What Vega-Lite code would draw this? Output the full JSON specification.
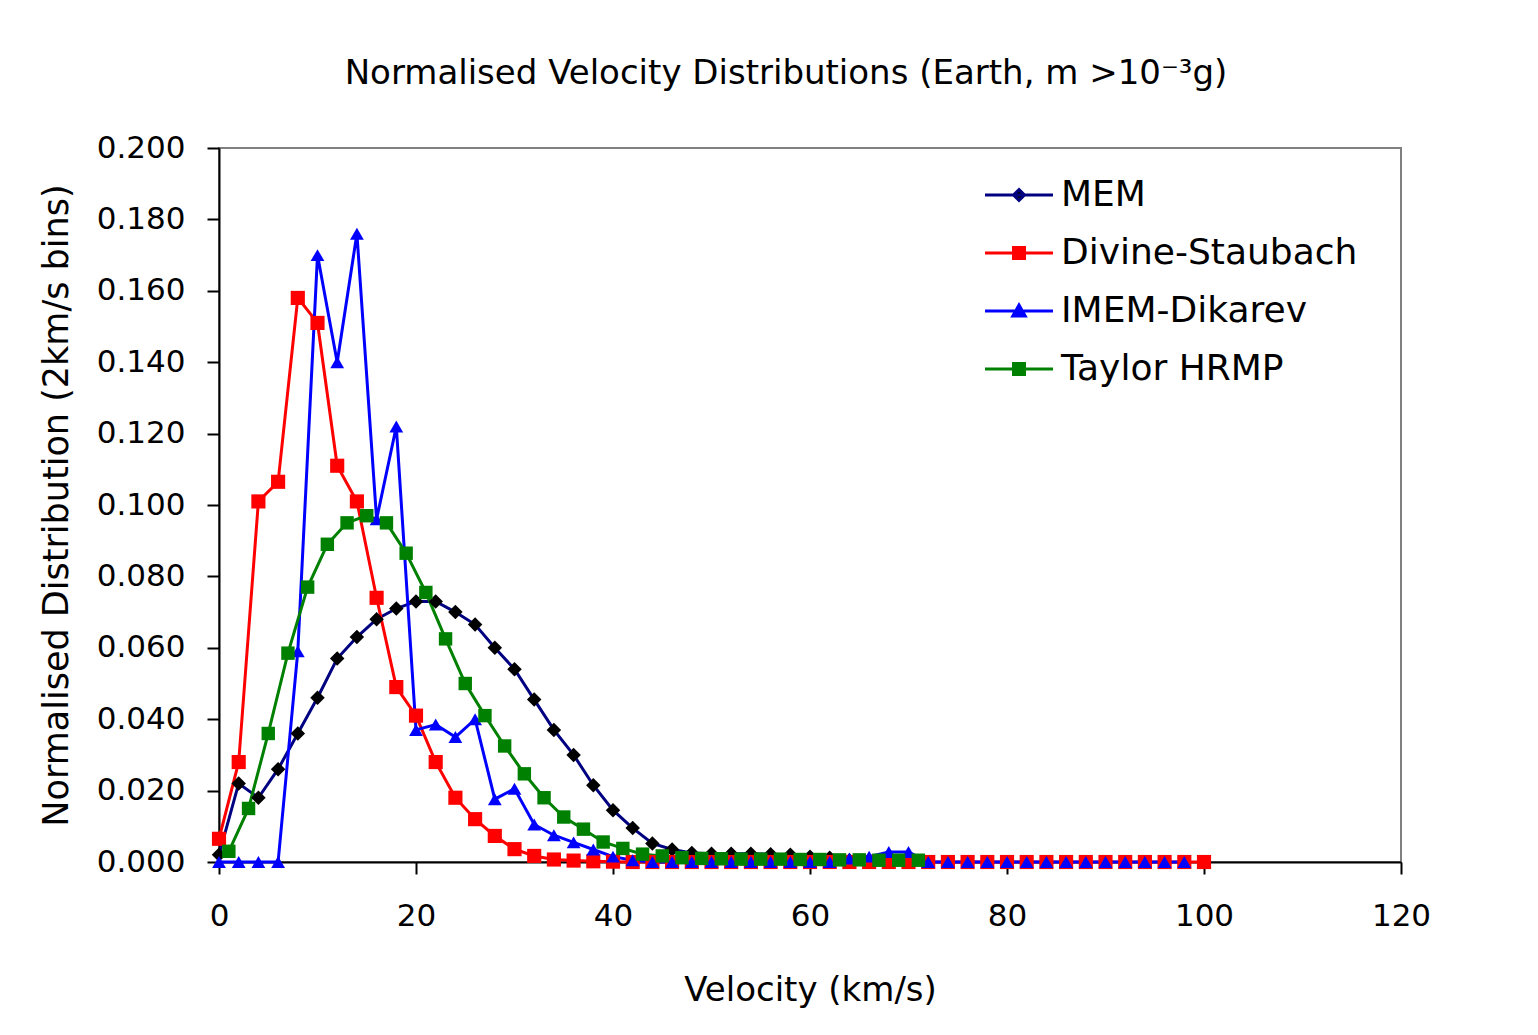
{
  "$schema": "https://vega.github.io/schema/vega-lite/v6.json",
  "autosize": {"type": "none"},
  "width": 1182,
  "height": 714,
  "padding": {"left": 219, "top": 148, "right": 137, "bottom": 173},
  "background": "#ffffff",
  "title": {
    "text": "Normalised Velocity Distributions (Earth, m >10⁻³g)",
    "font": "DejaVu Sans",
    "fontSize": 34,
    "fontWeight": "normal",
    "color": "#000000",
    "anchor": "middle",
    "dx": -24,
    "offset": 41
  },
  "config": {
    "view": {"stroke": "#808080", "strokeWidth": 2},
    "axis": {
      "domainColor": "#000000",
      "domainWidth": 2,
      "tickColor": "#000000",
      "tickWidth": 2,
      "tickSize": 12,
      "grid": false,
      "labelFlush": false,
      "labelFont": "DejaVu Sans",
      "labelFontSize": 31,
      "labelColor": "#000000",
      "titleFont": "DejaVu Sans",
      "titleFontSize": 34,
      "titleFontWeight": "normal",
      "titleColor": "#000000"
    }
  },
  "data": {
    "values": [
      {"s": "MEM", "v": 0, "d": 0.002}, {"s": "MEM", "v": 2, "d": 0.022}, {"s": "MEM", "v": 4, "d": 0.018}, {"s": "MEM", "v": 6, "d": 0.026},
      {"s": "MEM", "v": 8, "d": 0.036}, {"s": "MEM", "v": 10, "d": 0.046}, {"s": "MEM", "v": 12, "d": 0.057}, {"s": "MEM", "v": 14, "d": 0.063},
      {"s": "MEM", "v": 16, "d": 0.068}, {"s": "MEM", "v": 18, "d": 0.071}, {"s": "MEM", "v": 20, "d": 0.073}, {"s": "MEM", "v": 22, "d": 0.073},
      {"s": "MEM", "v": 24, "d": 0.070}, {"s": "MEM", "v": 26, "d": 0.0665}, {"s": "MEM", "v": 28, "d": 0.060}, {"s": "MEM", "v": 30, "d": 0.054},
      {"s": "MEM", "v": 32, "d": 0.0455}, {"s": "MEM", "v": 34, "d": 0.037}, {"s": "MEM", "v": 36, "d": 0.030}, {"s": "MEM", "v": 38, "d": 0.0215},
      {"s": "MEM", "v": 40, "d": 0.0145}, {"s": "MEM", "v": 42, "d": 0.0095}, {"s": "MEM", "v": 44, "d": 0.0052}, {"s": "MEM", "v": 46, "d": 0.0035},
      {"s": "MEM", "v": 48, "d": 0.0025}, {"s": "MEM", "v": 50, "d": 0.0023}, {"s": "MEM", "v": 52, "d": 0.0023}, {"s": "MEM", "v": 54, "d": 0.0023},
      {"s": "MEM", "v": 56, "d": 0.0022}, {"s": "MEM", "v": 58, "d": 0.002}, {"s": "MEM", "v": 60, "d": 0.0015}, {"s": "MEM", "v": 62, "d": 0.0012},
      {"s": "MEM", "v": 64, "d": 0.0005},

      {"s": "Divine-Staubach", "v": 0, "d": 0.0065}, {"s": "Divine-Staubach", "v": 2, "d": 0.028}, {"s": "Divine-Staubach", "v": 4, "d": 0.101},
      {"s": "Divine-Staubach", "v": 6, "d": 0.1065}, {"s": "Divine-Staubach", "v": 8, "d": 0.158}, {"s": "Divine-Staubach", "v": 10, "d": 0.151},
      {"s": "Divine-Staubach", "v": 12, "d": 0.111}, {"s": "Divine-Staubach", "v": 14, "d": 0.101}, {"s": "Divine-Staubach", "v": 16, "d": 0.074},
      {"s": "Divine-Staubach", "v": 18, "d": 0.049}, {"s": "Divine-Staubach", "v": 20, "d": 0.041}, {"s": "Divine-Staubach", "v": 22, "d": 0.028},
      {"s": "Divine-Staubach", "v": 24, "d": 0.018}, {"s": "Divine-Staubach", "v": 26, "d": 0.012}, {"s": "Divine-Staubach", "v": 28, "d": 0.0073},
      {"s": "Divine-Staubach", "v": 30, "d": 0.0036}, {"s": "Divine-Staubach", "v": 32, "d": 0.0017}, {"s": "Divine-Staubach", "v": 34, "d": 0.0007},
      {"s": "Divine-Staubach", "v": 36, "d": 0.0004}, {"s": "Divine-Staubach", "v": 38, "d": 0.0002}, {"s": "Divine-Staubach", "v": 40, "d": 0.0001},
      {"s": "Divine-Staubach", "v": 42, "d": 0}, {"s": "Divine-Staubach", "v": 44, "d": 0}, {"s": "Divine-Staubach", "v": 46, "d": 0},
      {"s": "Divine-Staubach", "v": 48, "d": 0}, {"s": "Divine-Staubach", "v": 50, "d": 0}, {"s": "Divine-Staubach", "v": 52, "d": 0},
      {"s": "Divine-Staubach", "v": 54, "d": 0}, {"s": "Divine-Staubach", "v": 56, "d": 0}, {"s": "Divine-Staubach", "v": 58, "d": 0},
      {"s": "Divine-Staubach", "v": 60, "d": 0}, {"s": "Divine-Staubach", "v": 62, "d": 0}, {"s": "Divine-Staubach", "v": 64, "d": 0},
      {"s": "Divine-Staubach", "v": 66, "d": 0}, {"s": "Divine-Staubach", "v": 68, "d": 0}, {"s": "Divine-Staubach", "v": 70, "d": 0},
      {"s": "Divine-Staubach", "v": 72, "d": 0}, {"s": "Divine-Staubach", "v": 74, "d": 0}, {"s": "Divine-Staubach", "v": 76, "d": 0},
      {"s": "Divine-Staubach", "v": 78, "d": 0}, {"s": "Divine-Staubach", "v": 80, "d": 0}, {"s": "Divine-Staubach", "v": 82, "d": 0},
      {"s": "Divine-Staubach", "v": 84, "d": 0}, {"s": "Divine-Staubach", "v": 86, "d": 0}, {"s": "Divine-Staubach", "v": 88, "d": 0},
      {"s": "Divine-Staubach", "v": 90, "d": 0}, {"s": "Divine-Staubach", "v": 92, "d": 0}, {"s": "Divine-Staubach", "v": 94, "d": 0},
      {"s": "Divine-Staubach", "v": 96, "d": 0}, {"s": "Divine-Staubach", "v": 98, "d": 0}, {"s": "Divine-Staubach", "v": 100, "d": 0},

      {"s": "IMEM-Dikarev", "v": 0, "d": 0}, {"s": "IMEM-Dikarev", "v": 2, "d": 0}, {"s": "IMEM-Dikarev", "v": 4, "d": 0},
      {"s": "IMEM-Dikarev", "v": 6, "d": 0}, {"s": "IMEM-Dikarev", "v": 8, "d": 0.059}, {"s": "IMEM-Dikarev", "v": 10, "d": 0.170},
      {"s": "IMEM-Dikarev", "v": 12, "d": 0.140}, {"s": "IMEM-Dikarev", "v": 14, "d": 0.176}, {"s": "IMEM-Dikarev", "v": 16, "d": 0.096},
      {"s": "IMEM-Dikarev", "v": 18, "d": 0.122}, {"s": "IMEM-Dikarev", "v": 20, "d": 0.037}, {"s": "IMEM-Dikarev", "v": 22, "d": 0.0385},
      {"s": "IMEM-Dikarev", "v": 24, "d": 0.035}, {"s": "IMEM-Dikarev", "v": 26, "d": 0.040}, {"s": "IMEM-Dikarev", "v": 28, "d": 0.0176},
      {"s": "IMEM-Dikarev", "v": 30, "d": 0.0205}, {"s": "IMEM-Dikarev", "v": 32, "d": 0.0105}, {"s": "IMEM-Dikarev", "v": 34, "d": 0.0075},
      {"s": "IMEM-Dikarev", "v": 36, "d": 0.0055}, {"s": "IMEM-Dikarev", "v": 38, "d": 0.0035}, {"s": "IMEM-Dikarev", "v": 40, "d": 0.0015},
      {"s": "IMEM-Dikarev", "v": 42, "d": 0.0005}, {"s": "IMEM-Dikarev", "v": 44, "d": 0}, {"s": "IMEM-Dikarev", "v": 46, "d": 0},
      {"s": "IMEM-Dikarev", "v": 48, "d": 0}, {"s": "IMEM-Dikarev", "v": 50, "d": 0}, {"s": "IMEM-Dikarev", "v": 52, "d": 0},
      {"s": "IMEM-Dikarev", "v": 54, "d": 0}, {"s": "IMEM-Dikarev", "v": 56, "d": 0}, {"s": "IMEM-Dikarev", "v": 58, "d": 0},
      {"s": "IMEM-Dikarev", "v": 60, "d": 0}, {"s": "IMEM-Dikarev", "v": 62, "d": 0}, {"s": "IMEM-Dikarev", "v": 64, "d": 0.001},
      {"s": "IMEM-Dikarev", "v": 66, "d": 0.0015}, {"s": "IMEM-Dikarev", "v": 68, "d": 0.0028}, {"s": "IMEM-Dikarev", "v": 70, "d": 0.0028},
      {"s": "IMEM-Dikarev", "v": 72, "d": 0}, {"s": "IMEM-Dikarev", "v": 74, "d": 0}, {"s": "IMEM-Dikarev", "v": 76, "d": 0},
      {"s": "IMEM-Dikarev", "v": 78, "d": 0}, {"s": "IMEM-Dikarev", "v": 80, "d": 0}, {"s": "IMEM-Dikarev", "v": 82, "d": 0},
      {"s": "IMEM-Dikarev", "v": 84, "d": 0}, {"s": "IMEM-Dikarev", "v": 86, "d": 0}, {"s": "IMEM-Dikarev", "v": 88, "d": 0},
      {"s": "IMEM-Dikarev", "v": 90, "d": 0}, {"s": "IMEM-Dikarev", "v": 92, "d": 0}, {"s": "IMEM-Dikarev", "v": 94, "d": 0},
      {"s": "IMEM-Dikarev", "v": 96, "d": 0}, {"s": "IMEM-Dikarev", "v": 98, "d": 0},

      {"s": "Taylor HRMP", "v": 1, "d": 0.003}, {"s": "Taylor HRMP", "v": 3, "d": 0.015}, {"s": "Taylor HRMP", "v": 5, "d": 0.036},
      {"s": "Taylor HRMP", "v": 7, "d": 0.0585}, {"s": "Taylor HRMP", "v": 9, "d": 0.077}, {"s": "Taylor HRMP", "v": 11, "d": 0.089},
      {"s": "Taylor HRMP", "v": 13, "d": 0.095}, {"s": "Taylor HRMP", "v": 15, "d": 0.097}, {"s": "Taylor HRMP", "v": 17, "d": 0.095},
      {"s": "Taylor HRMP", "v": 19, "d": 0.0865}, {"s": "Taylor HRMP", "v": 21, "d": 0.0755}, {"s": "Taylor HRMP", "v": 23, "d": 0.0625},
      {"s": "Taylor HRMP", "v": 25, "d": 0.050}, {"s": "Taylor HRMP", "v": 27, "d": 0.041}, {"s": "Taylor HRMP", "v": 29, "d": 0.0325},
      {"s": "Taylor HRMP", "v": 31, "d": 0.0247}, {"s": "Taylor HRMP", "v": 33, "d": 0.018}, {"s": "Taylor HRMP", "v": 35, "d": 0.0126},
      {"s": "Taylor HRMP", "v": 37, "d": 0.0092}, {"s": "Taylor HRMP", "v": 39, "d": 0.0056}, {"s": "Taylor HRMP", "v": 41, "d": 0.0038},
      {"s": "Taylor HRMP", "v": 43, "d": 0.0022}, {"s": "Taylor HRMP", "v": 45, "d": 0.0017}, {"s": "Taylor HRMP", "v": 47, "d": 0.0012},
      {"s": "Taylor HRMP", "v": 49, "d": 0.001}, {"s": "Taylor HRMP", "v": 51, "d": 0.0009}, {"s": "Taylor HRMP", "v": 53, "d": 0.0008},
      {"s": "Taylor HRMP", "v": 55, "d": 0.0008}, {"s": "Taylor HRMP", "v": 57, "d": 0.0008}, {"s": "Taylor HRMP", "v": 59, "d": 0.0007},
      {"s": "Taylor HRMP", "v": 61, "d": 0.0007}, {"s": "Taylor HRMP", "v": 63, "d": 0.0006}, {"s": "Taylor HRMP", "v": 65, "d": 0.0006},
      {"s": "Taylor HRMP", "v": 67, "d": 0.0005}, {"s": "Taylor HRMP", "v": 69, "d": 0.0005}, {"s": "Taylor HRMP", "v": 71, "d": 0.0005}
    ]
  },
  "encoding": {
    "x": {
      "field": "v", "type": "quantitative",
      "scale": {"domain": [0, 120], "nice": false},
      "axis": {
        "title": "Velocity (km/s)",
        "values": [0, 20, 40, 60, 80, 100, 120],
        "format": "d",
        "labelPadding": 27,
        "titleY": 128,
        "titleBaseline": "middle"
      }
    },
    "y": {
      "field": "d", "type": "quantitative",
      "scale": {"domain": [0, 0.2], "nice": false},
      "axis": {
        "title": "Normalised Distribution (2km/s bins)",
        "values": [0, 0.02, 0.04, 0.06, 0.08, 0.1, 0.12, 0.14, 0.16, 0.18, 0.2],
        "format": ".3f",
        "labelPadding": 22,
        "titleFontSize": 35,
        "titleX": -163,
        "titleY": 357,
        "titleBaseline": "middle"
      }
    }
  },
  "layer": [
    {
      "mark": {"type": "line", "strokeWidth": 3},
      "encoding": {
        "stroke": {
          "field": "s", "type": "nominal",
          "scale": {"domain": ["MEM", "Divine-Staubach", "IMEM-Dikarev", "Taylor HRMP"], "range": ["#000080", "#ff0000", "#0000ff", "#008000"]},
          "legend": {
            "title": null,
            "orient": "none",
            "legendX": 782,
            "legendY": 29,
            "padding": 0,
            "labelFont": "DejaVu Sans",
            "labelFontSize": 36,
            "labelColor": "#000000",
            "labelLimit": 600,
            "labelOffset": 24,
            "rowPadding": 22,
            "symbolSize": 400,
            "symbolStrokeWidth": 3,
            "encode": {
              "symbols": {
                "update": {
                  "shape": {"signal": "datum.value === 'MEM' ? 'M-3.4,0L3.4,0M0,-0.55L0.55,0L0,0.55L-0.55,0Z' : datum.value === 'IMEM-Dikarev' ? 'M-3.4,0L3.4,0M0,-0.6L0.62,0.5L-0.62,0.5Z' : 'M-3.4,0L3.4,0M-0.55,-0.55L0.55,-0.55L0.55,0.55L-0.55,0.55Z'"},
                  "fill": {"signal": "datum.value === 'MEM' ? '#000000' : datum.value === 'Divine-Staubach' ? '#ff0000' : datum.value === 'IMEM-Dikarev' ? '#0000ff' : '#008000'"},
                  "stroke": {"signal": "datum.value === 'MEM' ? '#000080' : datum.value === 'Divine-Staubach' ? '#ff0000' : datum.value === 'IMEM-Dikarev' ? '#0000ff' : '#008000'"},
                  "strokeWidth": {"value": 3},
                  "strokeOpacity": {"value": 1},
                  "fillOpacity": {"value": 1},
                  "opacity": {"value": 1}
                }
              }
            }
          }
        }
      }
    },
    {
      "mark": {"type": "point", "filled": true, "opacity": 1, "strokeWidth": 0},
      "encoding": {
        "fill": {
          "field": "s", "type": "nominal",
          "scale": {"domain": ["Taylor HRMP", "IMEM-Dikarev", "Divine-Staubach", "MEM"], "range": ["#008000", "#0000ff", "#ff0000", "#000000"]},
          "legend": null
        },
        "shape": {
          "field": "s", "type": "nominal",
          "scale": {"domain": ["Taylor HRMP", "IMEM-Dikarev", "Divine-Staubach", "MEM"], "range": ["square", "triangle-up", "square", "diamond"]},
          "legend": null
        },
        "size": {
          "field": "s", "type": "nominal",
          "scale": {"domain": ["Taylor HRMP", "IMEM-Dikarev", "Divine-Staubach", "MEM"], "range": [180, 210, 180, 180]},
          "legend": null
        }
      }
    }
  ]
}
